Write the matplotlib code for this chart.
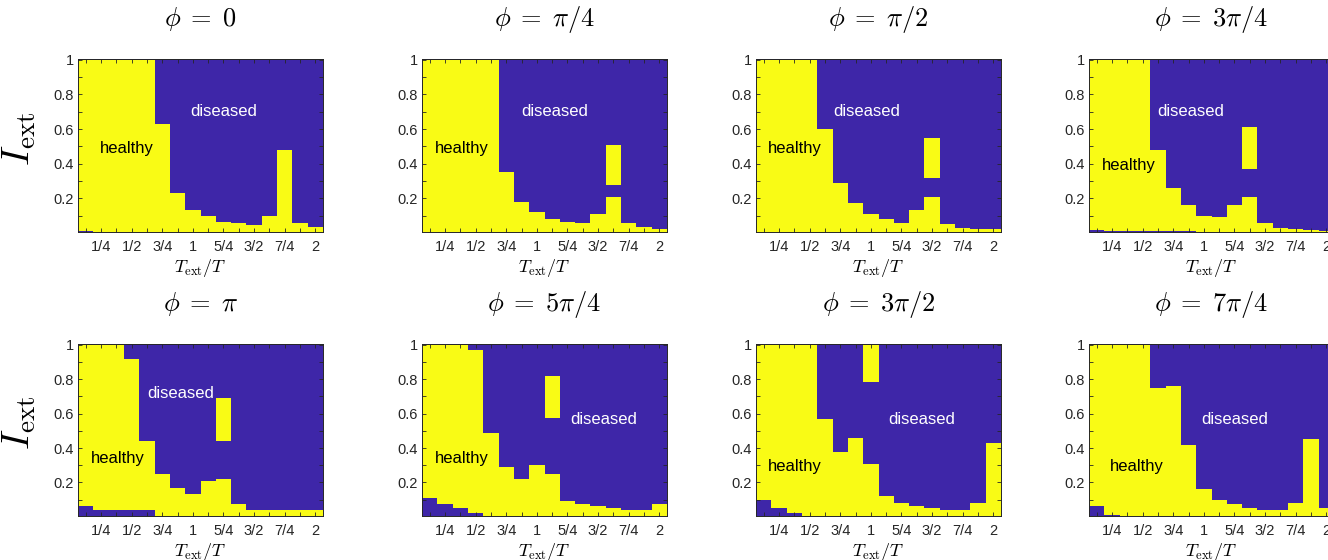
import numpy as np
import matplotlib
matplotlib.use("Agg")
import matplotlib.pyplot as plt
from matplotlib.colors import ListedColormap

plt.rcParams['font.family'] = ['Liberation Sans', 'DejaVu Sans']
plt.rcParams['mathtext.fontset'] = 'cm'

# ---------------- data ----------------
titles = [r'$\phi\;=\;0$', r'$\phi\;=\;\pi/4$', r'$\phi\;=\;\pi/2$', r'$\phi\;=\;3\pi/4$',
          r'$\phi\;=\;\pi$', r'$\phi\;=\;5\pi/4$', r'$\phi\;=\;3\pi/2$', r'$\phi\;=\;7\pi/4$']

# column centres T_ext/T = k/8, k = 1..16
t_ratio = np.arange(1, 17) / 8.0
x_tick_labels = ['', '1/4', '', '1/2', '', '3/4', '', '1', '', '5/4', '', '3/2', '', '7/4', '', '2']
y_ticks = [0.1, 0.2, 0.3, 0.4, 0.5, 0.6, 0.7, 0.8, 0.9, 1.0]
y_tick_labels = ['', '0.2', '', '0.4', '', '0.6', '', '0.8', '', '1']

# upper edge of the healthy (yellow) region, per column
upper_phi0    = [1, 1, 1, 1, 1, 0.63, 0.23, 0.135, 0.095, 0.063, 0.055, 0.045, 0.095, 0.48, 0.055, 0.035]
upper_phi1    = [1, 1, 1, 1, 1, 0.35, 0.18, 0.12, 0.08, 0.063, 0.055, 0.11, 0.21, 0.055, 0.033, 0.022]
upper_phi2    = [1, 1, 1, 1, 0.60, 0.29, 0.17, 0.11, 0.077, 0.058, 0.13, 0.21, 0.05, 0.03, 0.02, 0.02]
upper_phi3    = [1, 1, 1, 1, 0.48, 0.26, 0.16, 0.10, 0.09, 0.16, 0.21, 0.058, 0.03, 0.02, 0.015, 0.01]
upper_phi4    = [1, 1, 1, 0.92, 0.44, 0.25, 0.165, 0.135, 0.21, 0.22, 0.075, 0.042, 0.042, 0.042, 0.042, 0.042]
upper_phi5    = [1, 1, 1, 0.97, 0.49, 0.29, 0.22, 0.30, 0.25, 0.093, 0.075, 0.062, 0.052, 0.042, 0.042, 0.075]
upper_phi6    = [1, 1, 1, 1, 0.57, 0.38, 0.46, 0.31, 0.12, 0.083, 0.062, 0.052, 0.042, 0.042, 0.083, 0.43]
upper_phi7    = [1, 1, 1, 1, 0.75, 0.76, 0.42, 0.16, 0.10, 0.075, 0.052, 0.042, 0.042, 0.083, 0.45, 0.052]

# lower edge of the healthy region (diseased strip at the bottom), per column
lower_phi0 = [0.012, 0, 0, 0, 0, 0, 0, 0, 0, 0, 0, 0, 0, 0, 0, 0]
lower_phi1 = [0] * 16
lower_phi2 = [0] * 16
lower_phi3 = [0.016, 0.009, 0.009, 0.009, 0.009, 0.009, 0.009, 0, 0, 0, 0, 0, 0, 0, 0, 0]
lower_phi4 = [0.062, 0.042, 0.042, 0.042, 0.042, 0, 0, 0, 0, 0, 0, 0, 0, 0, 0, 0]
lower_phi5 = [0.11, 0.075, 0.052, 0.02, 0, 0, 0, 0, 0, 0, 0, 0, 0, 0, 0, 0]
lower_phi6 = [0.10, 0.052, 0.02, 0, 0, 0, 0, 0, 0, 0, 0, 0, 0, 0, 0, 0]
lower_phi7 = [0.062, 0.01, 0, 0, 0, 0, 0, 0, 0, 0, 0, 0, 0, 0, 0, 0]

# isolated healthy islands: (column index, I_low, I_high)
islands_phi0 = []
islands_phi1 = [(12, 0.275, 0.51)]
islands_phi2 = [(11, 0.32, 0.55)]
islands_phi3 = [(10, 0.37, 0.61)]
islands_phi4 = [(9, 0.443, 0.692)]
islands_phi5 = [(8, 0.572, 0.821)]
islands_phi6 = [(7, 0.782, 1.0)]
islands_phi7 = []

# label positions (T_ext/T, I_ext)
healthy_pos  = [(0.46, 0.486), (0.386, 0.487), (0.381, 0.486), (0.388, 0.387),
                (0.39, 0.341), (0.386, 0.341), (0.381, 0.293), (0.451, 0.293)]
diseased_pos = [(1.25, 0.70), (1.145, 0.70), (0.967, 0.70), (0.89, 0.70),
                (0.899, 0.72), (1.545, 0.568), (1.411, 0.568), (1.25, 0.568)]

uppers = [upper_phi0, upper_phi1, upper_phi2, upper_phi3, upper_phi4, upper_phi5, upper_phi6, upper_phi7]
lowers = [lower_phi0, lower_phi1, lower_phi2, lower_phi3, lower_phi4, lower_phi5, lower_phi6, lower_phi7]
islands = [islands_phi0, islands_phi1, islands_phi2, islands_phi3,
           islands_phi4, islands_phi5, islands_phi6, islands_phi7]

# ---------------- figure ----------------
W, H = 1328, 560
fig = plt.figure(figsize=(W / 100, H / 100), dpi=100)

blue = '#3e26a8'
yellow = '#f9fb15'
cmap = ListedColormap([blue, yellow])

lefts = [78, 422, 756, 1089]
tops = [59, 344]
heights = [173, 172]
aw = 245

dx = 1 / 8.0
x_edges = np.concatenate([t_ratio - dx / 2, [t_ratio[-1] + dx / 2]])
y_edges = np.arange(0.005, 1.0051, 0.0025)
y_cent = 0.5 * (y_edges[:-1] + y_edges[1:])

for i in range(8):
    r, c = divmod(i, 4)
    ax = fig.add_axes([lefts[c] / W, 1 - (tops[r] + heights[r]) / H, aw / W, heights[r] / H])
    up = np.array(uppers[i])[None, :]
    lo = np.array(lowers[i])[None, :]
    Z = ((y_cent[:, None] >= lo) & (y_cent[:, None] < up)).astype(float)
    for (ci, a, b) in islands[i]:
        Z[(y_cent >= a) & (y_cent < b), ci] = 1.0
    ax.pcolormesh(x_edges, y_edges, Z, cmap=cmap, vmin=0, vmax=1, shading='flat')
    ax.set_xlim(x_edges[0], x_edges[-1])
    ax.set_ylim(0.005, 1.005)
    ax.set_xticks(t_ratio)
    ax.set_xticklabels(x_tick_labels)
    ax.set_yticks(y_ticks)
    ax.set_yticklabels(y_tick_labels)
    ax.tick_params(direction='in', top=True, right=True, length=3, width=0.6,
                   color='#262626', labelcolor='#262626', labelsize=10.5)
    ax.tick_params(axis='x', pad=6)
    ax.tick_params(axis='y', pad=3)
    for s in ax.spines.values():
        s.set_color('#262626')
        s.set_linewidth(0.7)
    ax.set_title(titles[i], fontsize=19, pad=24)
    ax.set_xlabel(r'$T_{\rm ext}/T$', fontsize=13)
    ax.xaxis.set_label_coords(0.5, -0.145)
    ax.xaxis.label.set_va('top')
    if c == 0:
        ax.set_ylabel(r'$I_{\rm ext}$', fontsize=28)
        ax.yaxis.set_label_coords(-0.165, 0.54)
    hx, hy = healthy_pos[i]
    ax.text(hx, hy, 'healthy', color='black', fontsize=12, ha='center', va='center')
    dxp, dyp = diseased_pos[i]
    ax.text(dxp, dyp, 'diseased', color='white', fontsize=12, ha='center', va='center')

fig.savefig('out.png', dpi=100)
